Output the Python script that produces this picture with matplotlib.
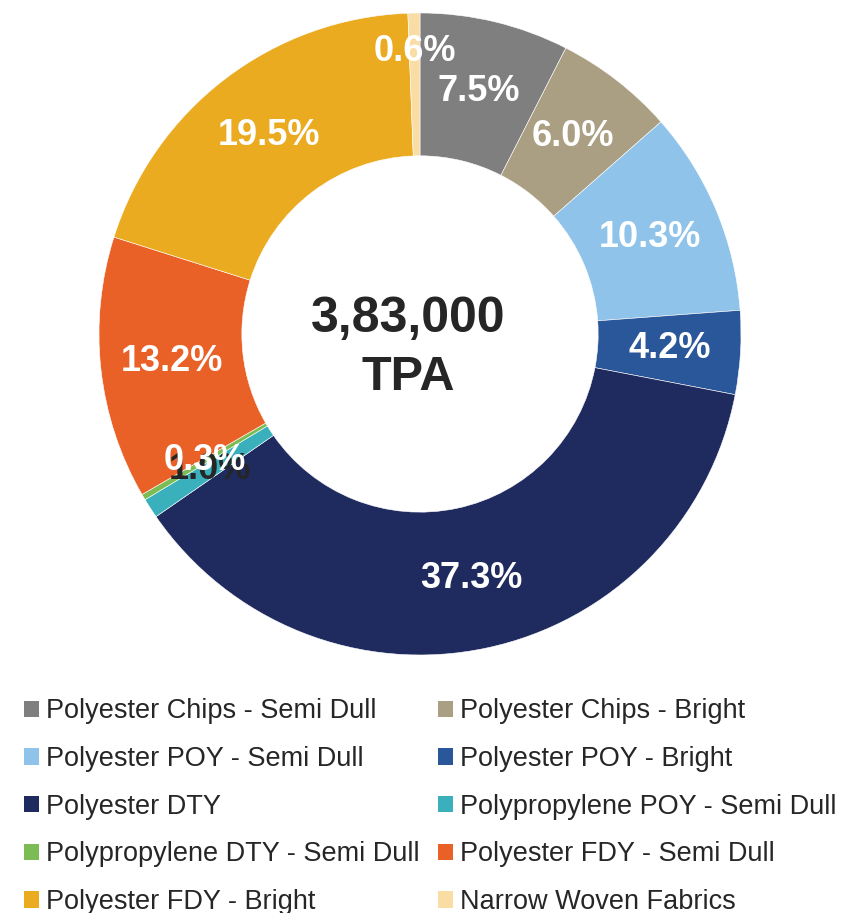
import numpy as np
import matplotlib
matplotlib.use("Agg")
import matplotlib.pyplot as plt
from matplotlib.patches import Patch

categories = [
    "Polyester Chips - Semi Dull",
    "Polyester Chips - Bright",
    "Polyester POY - Semi Dull",
    "Polyester POY - Bright",
    "Polyester DTY",
    "Polypropylene POY - Semi Dull",
    "Polypropylene DTY - Semi Dull",
    "Polyester FDY - Semi Dull",
    "Polyester FDY - Bright",
    "Narrow Woven Fabrics",
]
shares = [7.5, 6.0, 10.3, 4.2, 37.3, 1.0, 0.3, 13.2, 19.5, 0.6]
colors = ["#7f7f7f", "#aa9f82", "#8fc3e9", "#2a579a", "#1f2a5e",
          "#3ab0bd", "#7cbc55", "#ea6128", "#ebab21", "#f9dda5"]
label_colors = ["white"] * 5 + ["#262626"] + ["white"] * 4
center_text = ["3,83,000", "TPA"]

txt_font = ["Liberation Sans", "DejaVu Sans"]
bold_font = ["Liberation Sans", "DejaVu Sans"]

fig = plt.figure(figsize=(8.41, 9.13), dpi=100)
ax = fig.add_axes([0.1177, 0.2826, 0.7634, 0.7032])

wedges, _ = ax.pie(shares, colors=colors, startangle=90, counterclock=False,
                   radius=1.0, wedgeprops=dict(width=0.445, edgecolor="white", linewidth=0.4))
ax.set_xlim(-1, 1)
ax.set_ylim(-1, 1)
ax.set_aspect("equal")
ax.axis("off")

# percentage labels at the ring middle (the tiny top slice sits a bit further out)
for w, v, c in zip(wedges, shares, label_colors):
    ang = np.deg2rad((w.theta1 + w.theta2) / 2)
    r = 0.88 if v == 0.6 else 0.778
    ax.text(r * np.cos(ang), r * np.sin(ang), f"{v:.1f}%", color=c,
            ha="center", va="center", fontsize=26, fontweight="bold", family=bold_font)

# centre caption sits slightly left of the ring centre in the original
ax.text(-0.037, 0.006, center_text[0], ha="center", va="baseline", fontsize=36,
        fontweight="bold", color="#262626", family=bold_font)
ax.text(-0.037, -0.174, center_text[1], ha="center", va="baseline", fontsize=35,
        fontweight="bold", color="#262626", family=bold_font)

# legend reads row by row in the reference, matplotlib fills by column
order = [0, 2, 4, 6, 8, 1, 3, 5, 7, 9]
handles = [Patch(facecolor=colors[i], edgecolor="none") for i in order]
labels = [categories[i] for i in order]
fig.legend(handles, labels, loc="upper left", bbox_to_anchor=(0.0285, 0.2352),
           ncol=2, frameon=False, borderpad=0, borderaxespad=0,
           prop={"family": txt_font, "size": 19.5},
           handlelength=0.55, handleheight=0.55, handletextpad=0.26,
           columnspacing=0.68, labelspacing=0.80, labelcolor="#262626")

fig.savefig("out.png", dpi=100)
